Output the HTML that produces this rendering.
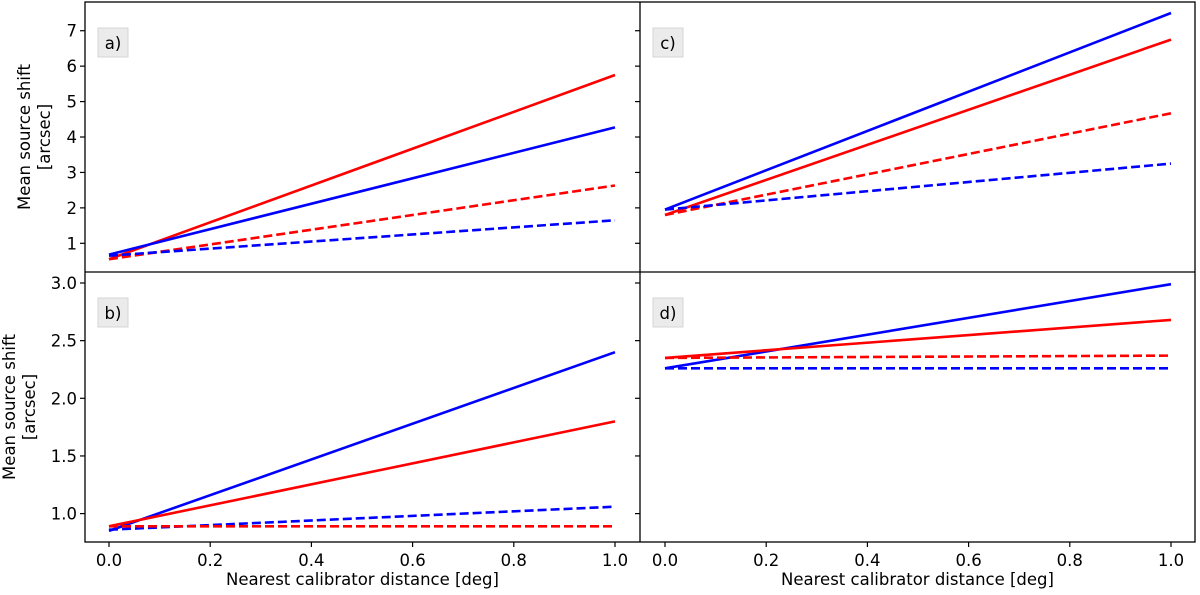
<!DOCTYPE html>
<html><head><meta charset="utf-8"><style>
html,body{margin:0;padding:0;background:#fff;}
svg{display:block;font-family:"DejaVu Sans","Liberation Sans",sans-serif;}
</style></head><body>
<svg id="chart" width="1200" height="595" viewBox="0 0 1200 595"></svg>
<script>
const panelNames = ['a)','b)','c)','d)'];
const xTicks = [0.0,0.2,0.4,0.6,0.8,1.0];
const xTickLabels = ['0.0','0.2','0.4','0.6','0.8','1.0'];
const yTicksTop = [1,2,3,4,5,6,7];
const yTicksBottom = [1.0,1.5,2.0,2.5,3.0];
const yTickLabelsBottom = ['1.0','1.5','2.0','2.5','3.0'];
const xValues = [0,1];
// panel a
const aRedSolid = [0.55,5.75];
const aBlueSolid = [0.68,4.27];
const aRedDash = [0.55,2.63];
const aBlueDash = [0.65,1.65];
// panel b
const bBlueSolid = [0.85,2.40];
const bRedSolid = [0.89,1.80];
const bBlueDash = [0.86,1.06];
const bRedDash = [0.89,0.89];
// panel c
const cBlueSolid = [1.95,7.5];
const cRedSolid = [1.8,6.75];
const cRedDash = [1.8,4.67];
const cBlueDash = [1.95,3.25];
// panel d
const dBlueSolid = [2.26,2.99];
const dRedSolid = [2.35,2.68];
const dRedDash = [2.35,2.37];
const dBlueDash = [2.26,2.26];

const NS='http://www.w3.org/2000/svg';
const svg=document.getElementById('chart');
function mk(tag,attrs,parent){const e=document.createElementNS(NS,tag);for(const k in attrs)e.setAttribute(k,attrs[k]);(parent||svg).appendChild(e);return e;}

const FS=16.5;
const cols=[{x0:85,x1:640,fx:v=>109+v*506},{x0:640,x1:1195,fx:v=>665+v*506}];
const rows=[{y0:2,y1:272,fy:v=>243.3-(v-1)*35.43},{y0:272,y1:542,fy:v=>283-(v-3)*115.3}];

const panels=[
 {c:0,r:0,name:'a)',series:[[aRedSolid,'red',0],[aBlueSolid,'blue',0],[aRedDash,'red',1],[aBlueDash,'blue',1]]},
 {c:0,r:1,name:'b)',series:[[bBlueSolid,'blue',0],[bRedSolid,'red',0],[bBlueDash,'blue',1],[bRedDash,'red',1]]},
 {c:1,r:0,name:'c)',series:[[cBlueSolid,'blue',0],[cRedSolid,'red',0],[cRedDash,'red',1],[cBlueDash,'blue',1]]},
 {c:1,r:1,name:'d)',series:[[dBlueSolid,'blue',0],[dRedSolid,'red',0],[dRedDash,'red',1],[dBlueDash,'blue',1]]}
];

panels.forEach((p,pi)=>{
 const C=cols[p.c],R=rows[p.r];
 const g=mk('g',{});
 
 
 p.series.forEach((s,si)=>{
  const pts=xValues.map((x,i)=>C.fx(x).toFixed(1)+','+R.fy(s[0][i]).toFixed(1)).join(' ');
  const l=mk('polyline',{points:pts,fill:'none',stroke:s[1],'stroke-width':2.6});
  if(s[2])l.setAttribute('stroke-dasharray','9,4');
  
  
  g.appendChild(l);
 });
 const yt=p.r===0?yTicksTop:yTicksBottom;
 yt.forEach((v,i)=>{
  const y=R.fy(v);
  mk('line',{x1:C.x0-5,x2:C.x0,y1:y,y2:y,stroke:'#000','stroke-width':1.2},g);
  if(p.c===0){
   const t=mk('text',{x:C.x0-8,y:y+6,'text-anchor':'end','font-size':FS},g);
   t.textContent=p.r===0?String(v):yTickLabelsBottom[i];
   
   
  }
 });
 if(p.r===1){
  xTicks.forEach((v,i)=>{
   const x=C.fx(v);
   mk('line',{x1:x,x2:x,y1:R.y1,y2:R.y1+5,stroke:'#000','stroke-width':1.2},g);
   const t=mk('text',{x:x,y:R.y1+24,'text-anchor':'middle','font-size':FS},g);
   t.textContent=xTickLabels[i];
   
   
  });
  const xl=mk('text',{x:(C.x0+C.x1)/2,y:585,'text-anchor':'middle','font-size':FS},g);
  xl.textContent='Nearest calibrator distance [deg]';
  
  
 }
 const bx=C.x0+13;
 const rb=mk('rect',{x:bx,y:R.y0+26,width:30,height:29,fill:'#ebebeb',stroke:'#d6d6d6','stroke-width':1},g);
 
 
 const lt=mk('text',{x:bx+15,y:R.y0+47,'text-anchor':'middle','font-size':FS},g);
 lt.textContent=p.name;
 
 
});

const fr=mk('rect',{x:85,y:2,width:1110,height:540,fill:'none',stroke:'#000','stroke-width':1.3});


mk('line',{x1:640,x2:640,y1:2,y2:542,stroke:'#000','stroke-width':1.3});
mk('line',{x1:85,x2:1195,y1:272,y2:272,stroke:'#000','stroke-width':1.3});

[[30,50,137],[15,35,407]].forEach((a,i)=>{
 const t1=mk('text',{x:a[0],y:a[2],'text-anchor':'middle','font-size':FS,transform:'rotate(-90 '+a[0]+' '+a[2]+')'});
 t1.textContent='Mean source shift';
 
 
 const t2=mk('text',{x:a[1],y:a[2],'text-anchor':'middle','font-size':FS,transform:'rotate(-90 '+a[1]+' '+a[2]+')'});
 t2.textContent='[arcsec]';
 
 
});
</script>
</body></html>
